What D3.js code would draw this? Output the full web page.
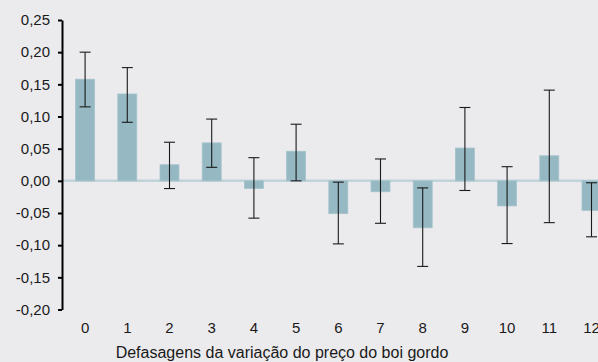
<!DOCTYPE html>
<html><head><meta charset="utf-8">
<script src="https://cdn.jsdelivr.net/npm/d3@7"></script>
<style>
html,body{margin:0;padding:0;background:#ebebed;}
svg{display:block;font-family:"Liberation Sans",Arial,sans-serif;}
</style></head>
<body><svg id="c" width="598" height="362"></svg>
<script>
const categories = ["0","1","2","3","4","5","6","7","8","9","10","11","12"];
const coefficients = [0.158,0.135,0.025,0.059,-0.012,0.046,-0.051,-0.017,-0.073,0.051,-0.039,0.039,-0.046];
const upperBounds = [0.200,0.176,0.060,0.096,0.036,0.088,-0.002,0.034,-0.011,0.114,0.022,0.141,-0.003];
const lowerBounds = [0.115,0.091,-0.012,0.021,-0.058,0.000,-0.098,-0.066,-0.133,-0.015,-0.0975,-0.065,-0.087];
const yTicks = [0.25,0.20,0.15,0.10,0.05,0.00,-0.05,-0.10,-0.15,-0.20];
const xTitle = "Defasagens da variação do preço do boi gordo";

const svg = d3.select("#c");
const y = d3.scaleLinear().domain([-0.20,0.25]).range([309.5,20]);
const x = d3.scaleBand().domain(categories).range([64,612.6]).paddingInner(0.55).paddingOuter(0.275);
const fmt = v => d3.format(".2f")(v).replace(".",",").replace("−","-");

// zero line
svg.append("line").attr("x1",62).attr("x2",598).attr("y1",y(0)).attr("y2",y(0))
  .attr("stroke","#bfd3d9").attr("stroke-width",2.5);

// bars
svg.append("g").selectAll("rect").data(coefficients).join("rect")
  .attr("x",(d,i)=>x(categories[i]))
  .attr("width",x.bandwidth())
  .attr("y",d=>y(Math.max(0,d)))
  .attr("height",d=>Math.abs(y(d)-y(0)))
  .attr("fill","#95b8c3").attr("stroke","#a6c4cd").attr("stroke-width",0.8);

// error bars
const eg = svg.append("g").attr("stroke","#1a1a1a").attr("stroke-width",1.1);
categories.forEach((c,i)=>{
  const cx = x(c)+x.bandwidth()/2;
  eg.append("line").attr("x1",cx).attr("x2",cx).attr("y1",y(upperBounds[i])).attr("y2",y(lowerBounds[i]));
  [upperBounds[i],lowerBounds[i]].forEach(v=>{
    eg.append("line").attr("x1",cx-5.5).attr("x2",cx+5.5).attr("y1",y(v)).attr("y2",y(v));
  });
});

// y axis
const ya = svg.append("g").attr("transform","translate(62,0)")
  .call(d3.axisLeft(y).tickValues(yTicks).tickFormat(fmt).tickSize(4).tickSizeOuter(0));
ya.select(".domain").attr("stroke","#000").attr("stroke-width",2);
ya.selectAll(".tick line").attr("stroke","#000").attr("stroke-width",2);
ya.selectAll(".tick text").attr("font-size",15).attr("fill","#1a1a1a").attr("x",-12)
  .attr("font-family","'Liberation Sans',Arial,sans-serif");

// x labels
const xa = svg.append("g").attr("transform","translate(0,309)")
  .call(d3.axisBottom(x).tickSize(0));
xa.select(".domain").remove();
xa.selectAll(".tick text").attr("font-size",15).attr("fill","#1a1a1a").attr("dy","0").attr("y",24)
  .attr("font-family","'Liberation Sans',Arial,sans-serif");

svg.append("text").attr("x",282).attr("y",358).attr("text-anchor","middle")
  .attr("font-size",16).attr("fill","#1a1a1a").text(xTitle);
</script></body></html>
